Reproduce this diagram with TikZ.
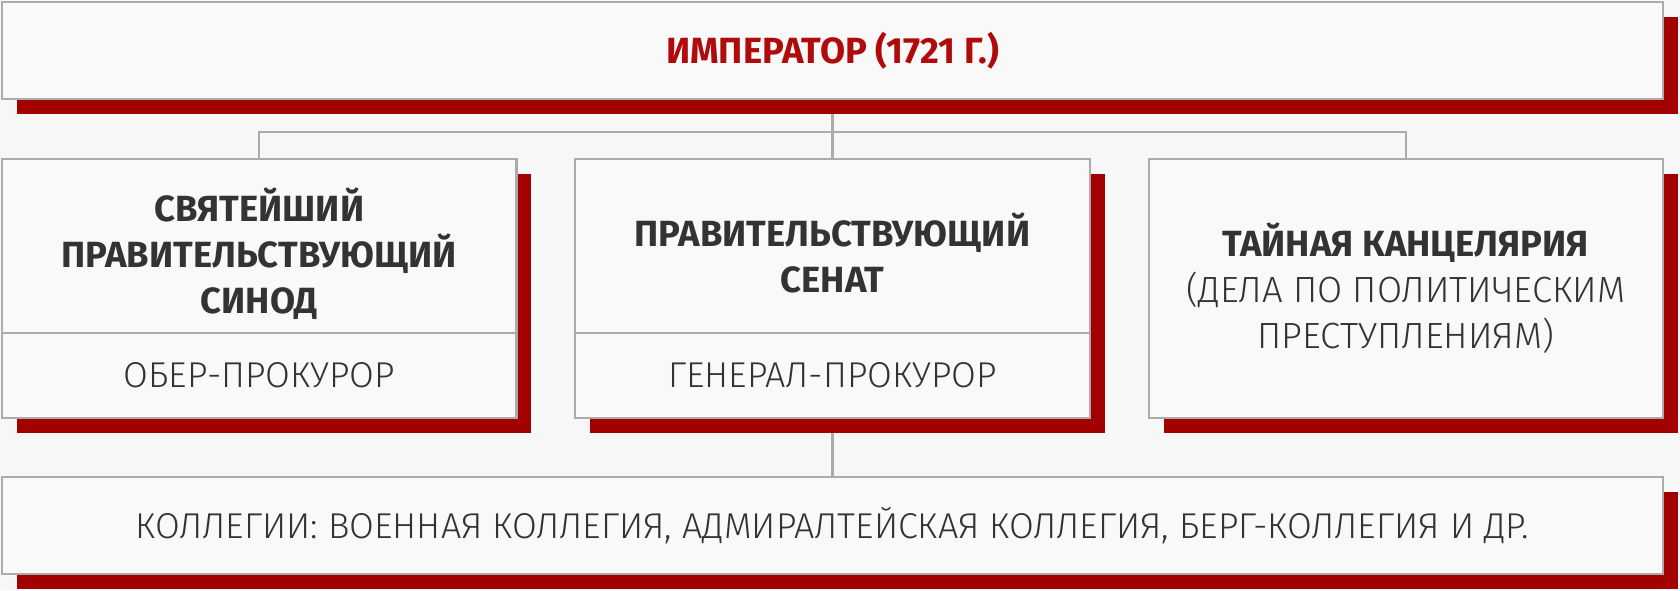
\documentclass[tikz,border=0pt]{standalone}
\usepackage{fontspec}
\setmainfont{Fira Sans}
\newfontfamily\lightFont{Fira Sans Light}
\usetikzlibrary{shadows,backgrounds}
\definecolor{bgGray}{HTML}{F7F7F7}
\definecolor{boxGray}{HTML}{F9F9F9}
\definecolor{lineGray}{HTML}{ABABAB}
\definecolor{shadowRed}{HTML}{A30000}
\definecolor{titleRed}{HTML}{B00A0A}
\definecolor{textDark}{HTML}{333333}
\tikzstyle{boxStyle}=[shape = rectangle, draw = lineGray, line width = 2pt, fill = boxGray, inner sep = 0pt, align = center, text = textDark, font = \fontsize{34}{43}\selectfont, general shadow = {shadow xshift = 14pt, shadow yshift = -14pt, fill = shadowRed, draw = none}]
\tikzstyle{lowerStyle}=[boxStyle, font = \fontsize{33.5}{43}\selectfont\lightFont]
\tikzstyle{textStyle}=[shape = rectangle, inner sep = 0pt, align = center, text = textDark, font = \fontsize{34}{43}\selectfont\bfseries]
\tikzstyle{lineStyle}=[draw = lineGray, line width = 2pt]

\begin{document}
\begin{tikzpicture}[x = 1pt, y = -1pt]
\useasboundingbox (0,0) rectangle (1568,551);
\node[boxStyle, minimum width = 1550pt, minimum height = 90pt, text = titleRed] (imp) at (777,47) {\bfseries ИМПЕРАТОР (1721 Г.)};
\node[boxStyle, minimum width = 480pt, minimum height = 163pt] (synod) at (242,229.5) {};
\node[textStyle] (synodText) at (242,236.5) {СВЯТЕЙШИЙ\\ПРАВИТЕЛЬСТВУЮЩИЙ\\СИНОД};
\node[lowerStyle, minimum width = 480pt, minimum height = 79pt] (oberp) at (242,350.5) {ОБЕР-ПРОКУРОР};
\node[boxStyle, minimum width = 480pt, minimum height = 163pt] (senat) at (777,229.5) {};
\node[textStyle] (senatText) at (777,236.5) {ПРАВИТЕЛЬСТВУЮЩИЙ\\СЕНАТ};
\node[lowerStyle, minimum width = 480pt, minimum height = 79pt] (genp) at (777,350.5) {ГЕНЕРАЛ-ПРОКУРОР};
\node[boxStyle, minimum width = 480pt, minimum height = 242pt] (tayna) at (1312,269) {\bfseries ТАЙНАЯ КАНЦЕЛЯРИЯ\\\lightFont (ДЕЛА ПО ПОЛИТИЧЕСКИМ\\\lightFont ПРЕСТУПЛЕНИЯМ)};
\node[lowerStyle, minimum width = 1550pt, minimum height = 91pt] (koll) at (777,490.5) {КОЛЛЕГИИ: ВОЕННАЯ КОЛЛЕГИЯ, АДМИРАЛТЕЙСКАЯ КОЛЛЕГИЯ, БЕРГ-КОЛЛЕГИЯ И ДР.};
\coordinate (split) at (777,123);
\begin{scope}[on background layer]
\fill[bgGray] (0,0) rectangle (1568,551);
\draw[lineStyle] (imp.south) -- (split) -- (senat.north);
\draw[lineStyle] (synod.north) |- (split) -| (tayna.north);
\draw[lineStyle] (genp.south) -- (koll.north);
\end{scope}
\end{tikzpicture}
\end{document}
